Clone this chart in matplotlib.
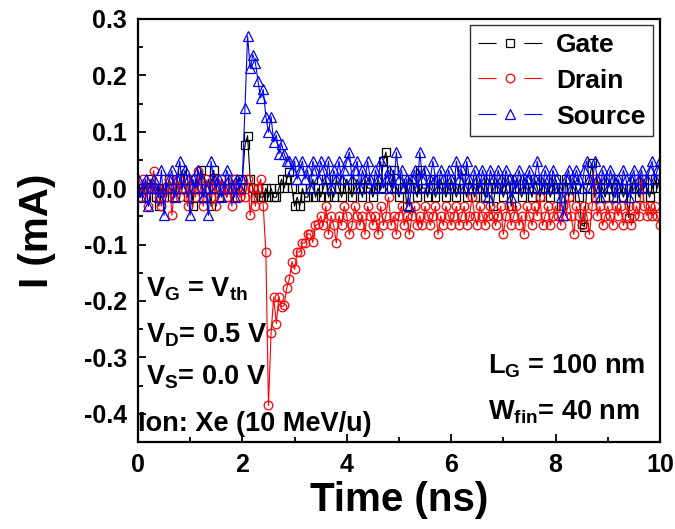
import matplotlib
matplotlib.use("Agg")
import matplotlib.pyplot as plt
from matplotlib.lines import Line2D
from matplotlib.ticker import MultipleLocator, FormatStrFormatter

plt.rcParams['font.family'] = ['Liberation Sans', 'DejaVu Sans']
plt.rcParams['font.weight'] = 'bold'
plt.rcParams['axes.unicode_minus'] = False
plt.rcParams['mathtext.fontset'] = 'custom'
plt.rcParams['mathtext.rm'] = 'Liberation Sans:bold'
plt.rcParams['mathtext.it'] = 'Liberation Sans:bold'
plt.rcParams['mathtext.bf'] = 'Liberation Sans:bold'
plt.rcParams['lines.scale_dashes'] = False

# ---------------- data (time in ns, current in mA) ----------------
time_ns = [
    0.00, 0.05, 0.10, 0.15, 0.20, 0.25, 0.30, 0.35, 0.40, 0.45,
    0.50, 0.55, 0.60, 0.65, 0.70, 0.75, 0.80, 0.85, 0.90, 0.95,
    1.00, 1.05, 1.10, 1.15, 1.20, 1.25, 1.30, 1.35, 1.40, 1.45,
    1.50, 1.55, 1.60, 1.65, 1.70, 1.75, 1.80, 1.85, 1.90, 1.95,
    2.00, 2.05, 2.10, 2.15, 2.20, 2.25, 2.30, 2.35, 2.40, 2.45,
    2.50, 2.55, 2.60, 2.65, 2.70, 2.75, 2.80, 2.85, 2.90, 2.95,
    3.00, 3.05, 3.10, 3.15, 3.20, 3.25, 3.30, 3.35, 3.40, 3.45,
    3.50, 3.55, 3.60, 3.65, 3.70, 3.75, 3.80, 3.85, 3.90, 3.95,
    4.00, 4.05, 4.10, 4.15, 4.20, 4.25, 4.30, 4.35, 4.40, 4.45,
    4.50, 4.55, 4.60, 4.65, 4.70, 4.75, 4.80, 4.85, 4.90, 4.95,
    5.00, 5.05, 5.10, 5.15, 5.20, 5.25, 5.30, 5.35, 5.40, 5.45,
    5.50, 5.55, 5.60, 5.65, 5.70, 5.75, 5.80, 5.85, 5.90, 5.95,
    6.00, 6.05, 6.10, 6.15, 6.20, 6.25, 6.30, 6.35, 6.40, 6.45,
    6.50, 6.55, 6.60, 6.65, 6.70, 6.75, 6.80, 6.85, 6.90, 6.95,
    7.00, 7.05, 7.10, 7.15, 7.20, 7.25, 7.30, 7.35, 7.40, 7.45,
    7.50, 7.55, 7.60, 7.65, 7.70, 7.75, 7.80, 7.85, 7.90, 7.95,
    8.00, 8.05, 8.10, 8.15, 8.20, 8.25, 8.30, 8.35, 8.40, 8.45,
    8.50, 8.55, 8.60, 8.65, 8.70, 8.75, 8.80, 8.85, 8.90, 8.95,
    9.00, 9.05, 9.10, 9.15, 9.20, 9.25, 9.30, 9.35, 9.40, 9.45,
    9.50, 9.55, 9.60, 9.65, 9.70, 9.75, 9.80, 9.85, 9.90, 9.95,
    10.00,
]

gate_mA = [
    0.0, -0.016, 0.0, -0.016, 0.0, 0.016, 0.0, -0.016, -0.032, 0.0,
    -0.016, 0.0, 0.016, 0.0, -0.016, 0.0, 0.016, 0.032, 0.0, -0.016,
    0.0, -0.032, 0.016, 0.0, 0.032, -0.016, 0.0, 0.016, -0.032, 0.032,
    0.0, -0.016, 0.016, 0.0, -0.016, 0.0, 0.016, 0.0, -0.016, 0.0,
    0.016, 0.076, 0.093, 0.016, 0.0, -0.016, 0.0, -0.016, -0.016, 0.0,
    -0.016, 0.0, -0.016, -0.016, 0.0, 0.016, 0.0, 0.016, 0.028, 0.0,
    -0.032, -0.016, -0.032, 0.0, -0.016, -0.016, 0.0, 0.016, -0.016, 0.0,
    -0.016, 0.0, 0.016, -0.016, 0.0, -0.016, 0.016, 0.0, -0.016, 0.0,
    0.016, 0.0, -0.016, 0.0, 0.016, 0.0, -0.016, 0.016, 0.0, 0.0,
    -0.016, 0.0, 0.016, 0.0, 0.048, 0.064, 0.016, 0.0, 0.032, 0.0,
    -0.016, 0.0, 0.016, -0.032, 0.0, 0.016, 0.0, -0.016, 0.032, 0.0,
    0.0, -0.016, 0.016, 0.0, -0.016, 0.0, 0.016, 0.0, -0.016, 0.0,
    0.016, 0.0, -0.016, 0.0, 0.032, 0.0, -0.016, 0.016, 0.0, -0.016,
    0.0, 0.016, 0.0, -0.016, 0.0, 0.016, -0.032, 0.0, 0.016, 0.0,
    -0.016, 0.0, 0.016, -0.032, 0.0, 0.016, 0.0, -0.016, 0.0, 0.016,
    0.0, -0.016, 0.016, 0.0, -0.016, 0.0, 0.016, 0.0, -0.016, 0.0,
    0.016, 0.0, -0.032, 0.0, 0.016, -0.016, 0.0, 0.016, 0.0, -0.016,
    -0.064, -0.068, 0.0, 0.016, 0.044, -0.016, 0.0, 0.016, 0.0, -0.016,
    0.0, 0.016, -0.016, 0.0, 0.016, 0.0, -0.016, 0.0, -0.052, 0.0,
    0.016, 0.0, -0.016, 0.0, 0.016, 0.0, -0.016, 0.0, 0.016, 0.0,
    0.016,
]

drain_mA = [
    0.0, -0.016, 0.016, 0.0, -0.032, 0.0, 0.031, 0.0, -0.016, -0.032,
    0.0, -0.016, 0.016, -0.048, 0.0, 0.016, -0.016, 0.0, 0.016, -0.032,
    0.0, 0.016, -0.016, 0.031, 0.0, -0.032, 0.016, 0.0, -0.016, 0.016,
    -0.032, 0.0, 0.016, 0.0, -0.016, 0.0, -0.032, 0.016, 0.0, -0.016,
    0.0, -0.016, 0.016, -0.048, 0.0, -0.032, 0.0, 0.016, -0.032, -0.113,
    -0.385, -0.257, -0.193, -0.240, -0.193, -0.210, -0.208, -0.177, -0.161, -0.130,
    -0.144, -0.113, -0.113, -0.097, -0.097, -0.081, -0.081, -0.096, -0.066, -0.064,
    -0.049, -0.066, -0.032, -0.082, -0.049, -0.066, -0.097, -0.049, -0.066, -0.032,
    -0.049, -0.082, -0.066, -0.032, -0.049, -0.066, -0.049, -0.082, -0.032, -0.049,
    -0.066, -0.049, -0.082, -0.032, -0.066, -0.049, -0.016, -0.066, -0.049, -0.082,
    -0.049, -0.032, -0.066, -0.049, -0.082, -0.049, -0.032, -0.066, -0.049, -0.066,
    -0.032, -0.049, -0.066, -0.049, -0.032, -0.082, -0.049, -0.066, -0.032, -0.049,
    -0.066, -0.049, -0.032, -0.066, -0.049, -0.032, -0.066, -0.049, -0.016, -0.049,
    -0.066, -0.032, -0.049, -0.066, -0.049, -0.032, -0.049, -0.066, -0.049, -0.032,
    -0.082, -0.049, -0.032, -0.066, -0.049, -0.032, -0.066, -0.049, -0.082, -0.032,
    -0.049, -0.066, -0.032, -0.049, -0.016, -0.066, -0.049, -0.032, -0.066, -0.049,
    -0.032, -0.049, -0.066, -0.032, -0.049, -0.016, -0.049, -0.082, -0.032, -0.049,
    -0.066, -0.032, -0.049, -0.082, -0.032, 0.016, -0.049, -0.032, -0.066, -0.049,
    -0.032, -0.049, -0.066, -0.032, -0.049, -0.032, -0.066, -0.049, -0.032, -0.066,
    -0.049, -0.032, -0.049, 0.016, -0.032, -0.049, -0.032, -0.049, -0.032, -0.049,
    -0.066,
]

source_mA = [
    0.016, -0.016, 0.0, 0.016, -0.032, 0.0, 0.016, 0.0, -0.016, 0.032,
    -0.048, 0.0, 0.016, 0.032, -0.016, 0.016, 0.048, 0.0, 0.032, 0.016,
    -0.048, 0.016, 0.0, 0.032, 0.016, -0.016, 0.0, -0.048, 0.048, 0.016,
    0.0, 0.016, -0.016, 0.0, 0.032, 0.016, 0.0, -0.016, 0.016, 0.0,
    0.016, 0.143, 0.270, 0.213, 0.237, 0.222, 0.190, 0.160, 0.175, 0.127,
    0.099, 0.127, 0.082, 0.094, 0.061, 0.079, 0.061, 0.048, 0.048, 0.032,
    0.048, 0.016, 0.032, 0.048, 0.016, 0.032, 0.0, 0.048, 0.032, 0.016,
    0.048, 0.032, 0.016, 0.048, 0.0, 0.032, 0.016, 0.048, 0.016, 0.032,
    0.048, 0.064, 0.016, 0.032, 0.048, 0.0, 0.032, 0.016, 0.048, 0.016,
    0.0, 0.032, 0.016, 0.048, 0.0, 0.016, 0.032, 0.016, 0.0, 0.064,
    0.016, 0.032, 0.0, 0.016, -0.032, 0.016, 0.032, 0.0, 0.064, 0.016,
    0.032, 0.0, 0.016, 0.048, 0.016, 0.0, 0.032, 0.016, 0.0, 0.032,
    0.016, 0.0, 0.048, 0.016, 0.032, 0.0, 0.048, 0.016, 0.0, 0.032,
    0.016, 0.0, 0.032, 0.016, -0.016, 0.032, 0.016, 0.0, 0.032, 0.016,
    0.0, 0.032, 0.016, -0.016, 0.016, 0.0, 0.032, 0.016, 0.0, 0.016,
    0.032, 0.0, 0.016, 0.048, 0.016, 0.0, 0.032, 0.016, 0.0, 0.032,
    0.016, 0.0, -0.016, -0.048, 0.016, 0.032, 0.0, 0.016, 0.032, 0.016,
    0.0, 0.032, 0.048, 0.016, 0.0, 0.048, 0.016, -0.016, 0.032, 0.016,
    0.0, 0.032, 0.016, -0.016, 0.016, 0.0, 0.032, 0.016, -0.016, 0.016,
    0.032, 0.0, 0.016, 0.032, 0.0, 0.016, 0.032, 0.048, 0.016, 0.032,
    0.048,
]

series_names = ["Gate", "Drain", "Source"]
series_colors = ["black", "red", "blue"]
series_markers = ["s", "o", "^"]
series_msize = [5.5, 6.2, 7.5]

# ---------------- figure ----------------
fig = plt.figure(figsize=(6.75, 5.29), dpi=100)
ax = fig.add_axes([0.2044, 0.1645, 0.7733, 0.7996])

for y, c, m, ms in zip([gate_mA, drain_mA, source_mA], series_colors, series_markers, series_msize):
    ax.plot(time_ns, y, color=c, lw=0.8, marker=m, ms=ms, mfc='none', mec=c, mew=0.9)

ax.set_xlim(0, 10)
ax.set_ylim(-0.45, 0.3)
ax.xaxis.set_major_locator(MultipleLocator(2))
ax.xaxis.set_minor_locator(MultipleLocator(1))
ax.yaxis.set_major_locator(MultipleLocator(0.1))
ax.yaxis.set_minor_locator(MultipleLocator(0.05))
ax.yaxis.set_major_formatter(FormatStrFormatter('%.1f'))
ax.tick_params(which='both', direction='in', top=False, right=False, width=1.3)
ax.tick_params(which='major', length=6, labelsize=18, pad=8)
ax.tick_params(which='minor', length=3.5)
for lab in ax.get_xticklabels() + ax.get_yticklabels():
    lab.set_fontweight('bold')
for s in ax.spines.values():
    s.set_linewidth(1.6)

ax.set_xlabel("Time (ns)", fontsize=29, fontweight='bold', labelpad=3)
ax.set_ylabel("I (mA)", fontsize=29, fontweight='bold', labelpad=20)

# legend with Origin-like broken line handles
handles = [Line2D([], [], color=c, lw=0.8, marker=m, ms=ms, mfc='none', mec=c, mew=0.9,
                  linestyle=(0, (13, 20, 13, 200)))
           for c, m, ms in zip(series_colors, series_markers, series_msize)]
leg = ax.legend(handles, series_names, loc='upper right', bbox_to_anchor=(0.987, 0.986),
                borderaxespad=0, fontsize=19, handlelength=2.45, handletextpad=0.5,
                labelspacing=0.45, fancybox=False, edgecolor='#333333', framealpha=1,
                borderpad=0.3)
leg.get_frame().set_linewidth(1.0)
for t in leg.get_texts():
    t.set_fontweight('bold')

fs = 19.5
ax.text(0.015, 0.345, r"V$_\mathregular{G}$ = V$_\mathregular{th}$", transform=ax.transAxes,
        fontsize=fs, fontweight='bold')
ax.text(0.015, 0.236, r"V$_\mathregular{D}$= 0.5 V", transform=ax.transAxes,
        fontsize=fs, fontweight='bold')
ax.text(0.015, 0.135, r"V$_\mathregular{S}$= 0.0 V", transform=ax.transAxes,
        fontsize=fs, fontweight='bold')
ax.text(0.0, 0.026, "Ion: Xe (10 MeV/u)", transform=ax.transAxes,
        fontsize=fs, fontweight='bold')
ax.text(0.67, 0.161, r"L$_\mathregular{G}$ = 100 nm", transform=ax.transAxes,
        fontsize=fs, fontweight='bold')
ax.text(0.67, 0.054, r"W$_\mathregular{fin}$= 40 nm", transform=ax.transAxes,
        fontsize=fs, fontweight='bold')

fig.savefig("out.png", dpi=100)
